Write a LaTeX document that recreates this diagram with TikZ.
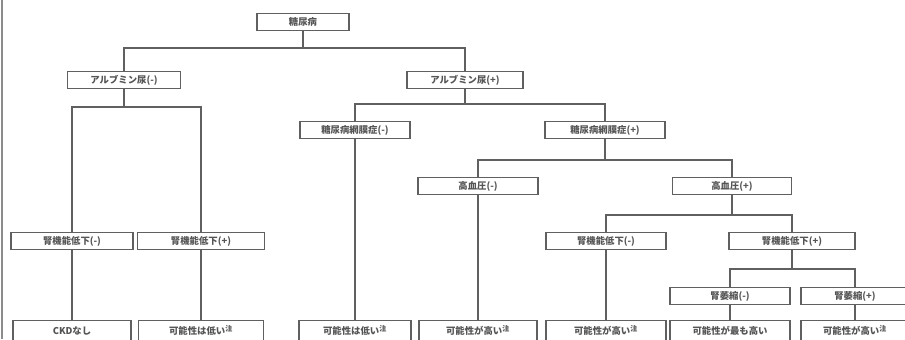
\documentclass[tikz,border=0pt]{standalone}
\usepackage{fontspec}
\setmainfont{Noto Sans CJK JP}
\usetikzlibrary{positioning}
\definecolor{Ink}{HTML}{555555}
\definecolor{Rule}{HTML}{606060}
\tikzset{tbox/.style={draw=Rule,line width=1.2pt,fill=white,text=Ink,inner sep=0pt,minimum height=0.51cm,font=\fontsize{8}{9}\selectfont\bfseries},
leaf/.style={tbox,minimum height=0.6cm,anchor=north},
link/.style={draw=Rule,line width=0.9pt}}

\begin{document}
\begin{tikzpicture}[x=0.03cm,y=-0.03cm]
\useasboundingbox[fill=white] (0,0) rectangle (905,339);
\draw[black!45,line width=1pt] (2,0) -- (2,339);
\node[tbox,minimum width=2.76cm] (root) at (303,22) {糖尿病};
\node[tbox,minimum width=3.39cm] (albn) at (124,80) {アルブミン尿(-)};
\node[tbox,minimum width=3.48cm] (albp) at (465,80) {アルブミン尿(+)};
\node[tbox,minimum width=3.66cm] (gfran) at (72,241) {腎機能低下(-)};
\node[tbox,minimum width=3.81cm] (gfrap) at (201,241) {腎機能低下(+)};
\node[tbox,minimum width=3.3cm] (retn) at (355,130) {糖尿病網膜症(-)};
\node[tbox,minimum width=3.6cm] (retp) at (605,130) {糖尿病網膜症(+)};
\node[tbox,minimum width=3.6cm] (hbpn) at (478,186) {高血圧(-)};
\node[tbox,minimum width=3.57cm] (hbpp) at (732,186) {高血圧(+)};
\node[tbox,minimum width=3.6cm] (gfrbn) at (606,241) {腎機能低下(-)};
\node[tbox,minimum width=3.78cm] (gfrbp) at (792,241) {腎機能低下(+)};
\node[tbox,minimum width=3.6cm] (atrn) at (730,296) {腎萎縮(-)};
\node[tbox,minimum width=3.24cm] (atrp) at (855,296) {腎萎縮(+)};
% leaves
\node[leaf,minimum width=3.54cm] (l1) at (72,320) {CKDなし};
\node[leaf,minimum width=3.75cm] (l2) at (201,320) {可能性は低い\textsuperscript{注}};
\node[leaf,minimum width=3.36cm] (l3) at (355,320) {可能性は低い\textsuperscript{注}};
\node[leaf,minimum width=3.54cm] (l4) at (478,320) {可能性が高い\textsuperscript{注}};
\node[leaf,minimum width=3.6cm] (l5) at (606,320) {可能性が高い\textsuperscript{注}};
\node[leaf,minimum width=3.6cm] (l6) at (730,320) {可能性が最も高い};
\node[leaf,minimum width=3.24cm] (l7) at (855,320) {可能性が高い\textsuperscript{注}};
% branches
\draw[link] (root.south) -- (root.south |- 0,48) -| (albn.north);
\draw[link] (root.south |- 0,48) -| (albp.north);
\draw[link] (albn.south) -- (albn.south |- 0,107) -| (gfran.north);
\draw[link] (albn.south |- 0,107) -| (gfrap.north);
\draw[link] (albp.south) -- (albp.south |- 0,104) -| (retn.north);
\draw[link] (albp.south |- 0,104) -| (retp.north);
\draw[link] (retp.south) -- (retp.south |- 0,160) -| (hbpn.north);
\draw[link] (retp.south |- 0,160) -| (hbpp.north);
\draw[link] (hbpp.south) -- (hbpp.south |- 0,215) -| (gfrbn.north);
\draw[link] (hbpp.south |- 0,215) -| (gfrbp.north);
\draw[link] (gfrbp.south) -- (gfrbp.south |- 0,269) -| (atrn.north);
\draw[link] (gfrbp.south |- 0,269) -| (atrp.north);
\draw[link] (gfran) -- (l1);
\draw[link] (gfrap) -- (l2);
\draw[link] (retn) -- (l3);
\draw[link] (hbpn) -- (l4);
\draw[link] (gfrbn) -- (l5);
\draw[link] (atrn) -- (l6);
\draw[link] (atrp) -- (l7);
\end{tikzpicture}
\end{document}
